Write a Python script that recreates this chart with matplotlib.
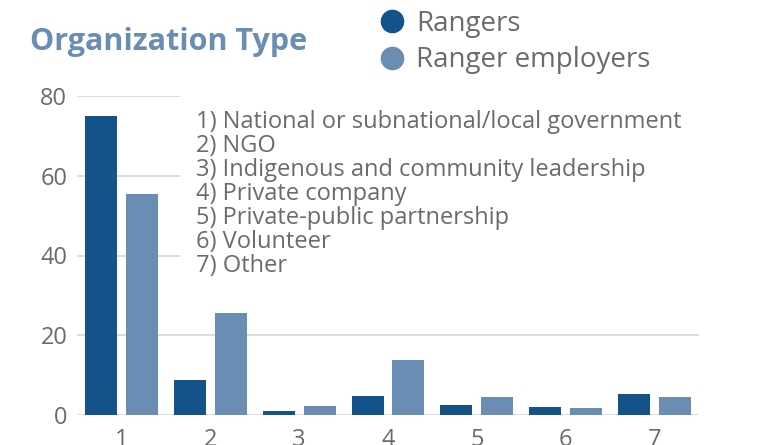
import matplotlib
matplotlib.use("Agg")
import matplotlib.pyplot as plt
import numpy as np
from matplotlib.lines import Line2D

categories = [1, 2, 3, 4, 5, 6, 7]
rangers = [75, 8.8, 1.0, 4.8, 2.6, 2.0, 5.3]
employers = [55.4, 25.7, 2.3, 13.8, 4.4, 1.7, 4.4]
yticks = [0, 20, 40, 60, 80]
descriptions = [
    "1) National or subnational/local government",
    "2) NGO",
    "3) Indigenous and community leadership",
    "4) Private company",
    "5) Private-public partnership",
    "6) Volunteer",
    "7) Other",
]
title = "Organization Type"
series_names = ["Rangers", "Ranger employers"]

dark = "#14538a"
light = "#6a8db3"
gray = "#6b6b6b"
grid = "#d9d9d9"
font = "Open Sans"

fig = plt.figure(figsize=(7.59, 4.45), dpi=100)
ax = fig.add_axes([77/759, (445-415)/445, (699-77)/759, (415-96)/445])

x = np.array(categories, dtype=float)
w = 0.36
off = 0.23
ax.bar(x - off, rangers, width=w, color=dark, zorder=3)
ax.bar(x + off, employers, width=w, color=light, zorder=3)

ax.set_xlim(0.5, 7.5)
ax.set_ylim(0, 80)
ax.set_yticks(yticks)
ax.set_xticks(categories)
ax.set_xticklabels([str(c) for c in categories])
ax.grid(axis="y", color=grid, lw=1.3, zorder=0)
ax.set_axisbelow(True)
for s in ax.spines.values():
    s.set_visible(False)
ax.tick_params(length=0, labelsize=17, colors=gray)
ax.tick_params(axis="y", pad=7)
ax.tick_params(axis="x", pad=9)
for lab in ax.get_xticklabels() + ax.get_yticklabels():
    lab.set_fontfamily(font)

# white box covering grid behind description text
rect = plt.Rectangle((180/759, 1-284/445), (740-180)/759, 192/445,
                     transform=fig.transFigure, facecolor="white",
                     edgecolor="none", zorder=4, clip_on=False)
ax.add_patch(rect)
ax.text(196/759, 1-110/445, "\n".join(descriptions), transform=fig.transFigure,
        fontsize=17, color=gray, family=font,
        va="top", ha="left", linespacing=1.0, zorder=5)

fig.text(30/759, 1-42/445, title, fontsize=22, fontweight="bold", color=light,
         family=font, va="center", ha="left")

handles = [Line2D([], [], marker="o", ls="none", color=c, markersize=16)
           for c in (dark, light)]
leg = fig.legend(handles, series_names, loc="upper left",
                 bbox_to_anchor=(377/759, 1-10/445), frameon=False,
                 prop={"family": font, "size": 20},
                 labelspacing=0.3, handletextpad=0.3, handlelength=1.1,
                 borderaxespad=0, borderpad=0)
for t in leg.get_texts():
    t.set_color(gray)

fig.savefig("out.png", dpi=100)
